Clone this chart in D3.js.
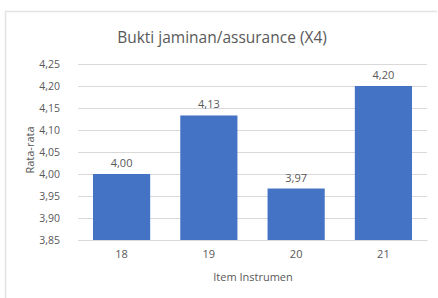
<!DOCTYPE html>
<html>
<head>
<meta charset="utf-8">
<script src="https://cdn.jsdelivr.net/npm/d3@7"></script>
<style>
  body { margin: 0; background: #fff; }
  text { font-family: "Open Sans", sans-serif; fill: #595959; }
</style>
</head>
<body>
<div class="chart"></div>
<script>
var svgWidth = 438;
var svgHeight = 298;

// data
var items = ["18", "19", "20", "21"];
var means = [4.00, 4.133, 3.967, 4.20];
var meanLabels = ["4,00", "4,13", "3,97", "4,20"];
var yTicks = [3.85, 3.90, 3.95, 4.00, 4.05, 4.10, 4.15, 4.20, 4.25];

var margin = { top: 64, right: 11, bottom: 58, left: 78 };
var width = svgWidth - margin.left - margin.right;
var height = svgHeight - margin.top - margin.bottom;

var svg = d3.select(".chart")
  .append("svg")
  .attr("width", svgWidth)
  .attr("height", svgHeight);

// faint frame (top and left edges are visible)
svg.append("path")
  .attr("d", "M5.5,298 V11.5 H437")
  .attr("fill", "none")
  .attr("stroke", "#e3e3e3")
  .attr("stroke-width", 1.5);

var chartGroup = svg.append("g")
  .attr("transform", `translate(${margin.left}, ${margin.top})`);

var xScale = d3.scaleBand()
  .domain(items)
  .range([0, width])
  .paddingInner(0.345)
  .paddingOuter(0.172);

var yScale = d3.scaleLinear()
  .domain([3.85, 4.25])
  .range([height, 0]);

var fmt = d => d.toFixed(2).replace(".", ",");

// gridlines + y labels
var leftAxis = d3.axisLeft(yScale)
  .tickValues(yTicks)
  .tickSize(-width)
  .tickPadding(18)
  .tickFormat(fmt);

var yAxis = chartGroup.append("g").call(leftAxis);
yAxis.select(".domain").remove();
yAxis.selectAll("line").attr("stroke", "#d9d9d9");
yAxis.selectAll("text")
  .style("font-size", "10.5px")
  .attr("fill", "#595959");

// bars
chartGroup.selectAll("rect.bar")
  .data(means)
  .enter()
  .append("rect")
  .attr("class", "bar")
  .attr("x", (d, i) => xScale(items[i]))
  .attr("y", d => yScale(d))
  .attr("width", xScale.bandwidth())
  .attr("height", d => height - yScale(d))
  .attr("fill", "#4472C4");

// data labels
chartGroup.selectAll("text.val")
  .data(means)
  .enter()
  .append("text")
  .attr("class", "val")
  .attr("x", (d, i) => xScale(items[i]) + xScale.bandwidth() / 2)
  .attr("y", d => yScale(d) - 7)
  .attr("text-anchor", "middle")
  .style("font-size", "11px")
  .text((d, i) => meanLabels[i]);

// x axis labels
var bottomAxis = d3.axisBottom(xScale).tickSize(0).tickPadding(10);
var xAxis = chartGroup.append("g")
  .attr("transform", `translate(0, ${height})`)
  .call(bottomAxis);
xAxis.select(".domain").attr("stroke", "#d9d9d9");
xAxis.selectAll("text")
  .style("font-size", "11px")
  .attr("fill", "#595959");

// titles
svg.append("text")
  .attr("x", 222)
  .attr("y", 43)
  .attr("text-anchor", "middle")
  .style("font-size", "15.5px")
  .text("Bukti jaminan/assurance  (X4)");

svg.append("text")
  .attr("transform", "rotate(-90)")
  .attr("x", -150)
  .attr("y", 34)
  .attr("text-anchor", "middle")
  .style("font-size", "11px")
  .text("Rata-rata");

svg.append("text")
  .attr("x", 253)
  .attr("y", 281)
  .attr("text-anchor", "middle")
  .style("font-size", "11px")
  .text("Item Instrumen");
</script>
</body>
</html>
